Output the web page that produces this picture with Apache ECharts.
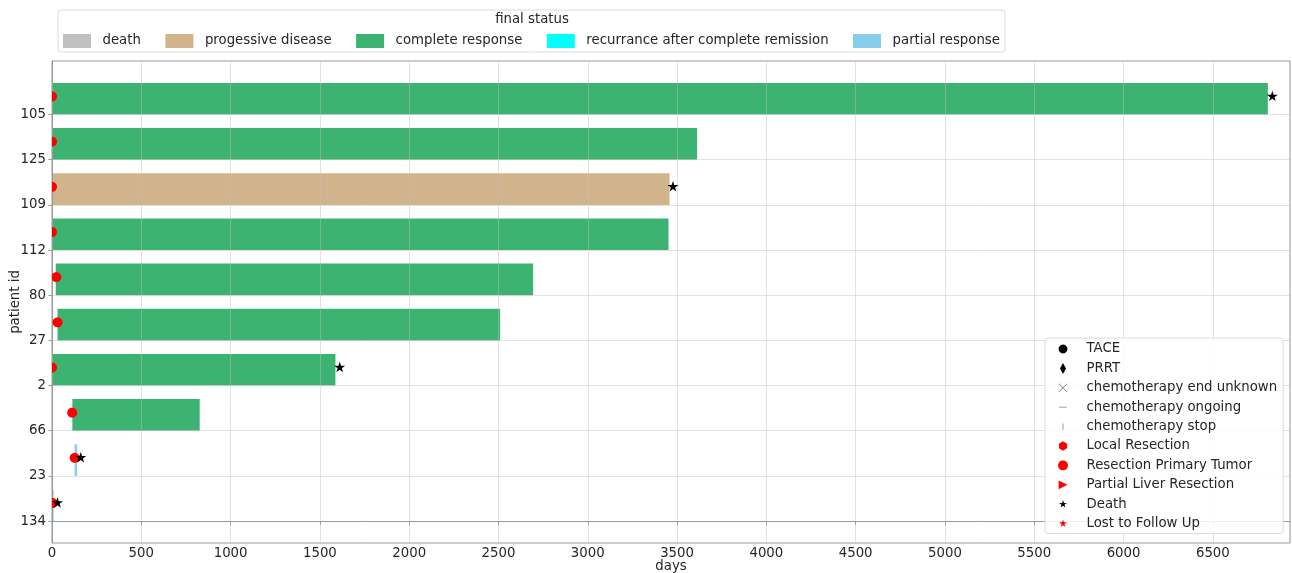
<!DOCTYPE html>
<html>
<head>
<meta charset="utf-8">
<script src="https://cdn.jsdelivr.net/npm/echarts@6/dist/echarts.min.js"></script>
<style>
  html, body { margin: 0; padding: 0; background: #ffffff; }
  #chart { width: 1292px; height: 573px; }
</style>
</head>
<body>
<div id="chart"></div>
<script>
// Patients, listed from the top row to the bottom row
const patients = ['105', '125', '109', '112', '80', '27', '2', '66', '23', '134'];
// Treatment period of each patient, in days
const startDays = [0, 0, 0, 0, 21, 31, 0, 114, 130, 0];
const endDays = [6808, 3612, 3458, 3452, 2694, 2509, 1587, 827, 137, 4];
const finalStatus = ['complete response', 'complete response', 'progessive disease', 'complete response',
  'complete response', 'complete response', 'complete response', 'complete response',
  'partial response', 'partial response'];
// Events (null = no event)
const resectionPrimaryDays = [0, 0, 0, 0, 24, 31, 0, 113, 127, 3];
const deathDays = [6833, null, 3477, null, null, null, 1611, null, 161, 31];

const statusNames = ['death', 'progessive disease', 'complete response',
  'recurrance after complete remission', 'partial response'];
const statusColors = ['#c0c0c0', '#d2b48c', '#3cb371', '#00ffff', '#87ceeb'];

const markerNames = ['TACE', 'PRRT', 'chemotherapy end unknown', 'chemotherapy ongoing', 'chemotherapy stop',
  'Local Resection', 'Resection Primary Tumor', 'Partial Liver Resection', 'Death', 'Lost to Follow Up'];

const xTickStep = 500;
const dayMax = 6932;
const BAR_H = 0.7;      // bar thickness in row units, bars sit on top of their tick
const MARK_OFF = 0.4;   // event markers sit inside the bar
const n = patients.length;
const rowOf = i => n - 1 - i;

// unit outlines (y pointing down)
const CIRCLE_PTS = Array.from({ length: 36 }, (_, k) => {
  const a = k * 2 * Math.PI / 36;
  return [Math.cos(a), Math.sin(a)];
});
const STAR_PTS = Array.from({ length: 10 }, (_, k) => {
  const r = k % 2 ? 0.382 : 1;
  const a = Math.PI / 2 + k * Math.PI / 5;
  return [r * Math.cos(a), -r * Math.sin(a)];
});
function toPath(pts, scale) {
  return pts.map((p, k) => (k ? 'L' : 'M') + (p[0] * scale).toFixed(3) + ',' + (p[1] * scale).toFixed(3)).join('') + 'Z';
}
function polyPts(sides, rot) {
  return Array.from({ length: sides }, (_, k) => {
    const a = rot + k * 2 * Math.PI / sides;
    return [Math.cos(a), -Math.sin(a)];
  });
}
const FRAME = 'M-1,-1L-1,-1ZM1,1L1,1Z';
const icons = {
  'TACE': 'path://' + FRAME + toPath(CIRCLE_PTS, 0.8),
  'PRRT': 'path://M0,-1L0.55,0L0,1L-0.55,0Z',
  'chemotherapy end unknown': 'path://' + FRAME + 'M-0.8,-0.7L-0.7,-0.8L0,-0.1L0.7,-0.8L0.8,-0.7L0.1,0L0.8,0.7L0.7,0.8L0,0.1L-0.7,0.8L-0.8,0.7L-0.1,0Z',
  'chemotherapy ongoing': 'path://' + FRAME + 'M-0.7,-0.07L0.7,-0.07L0.7,0.07L-0.7,0.07Z',
  'chemotherapy stop': 'path://' + FRAME + 'M-0.07,-0.55L0.07,-0.55L0.07,0.55L-0.07,0.55Z',
  'Local Resection': 'path://' + FRAME + toPath(polyPts(6, Math.PI / 2), 0.85),
  'Resection Primary Tumor': 'path://' + FRAME + toPath(CIRCLE_PTS, 0.9),
  'Partial Liver Resection': 'path://' + FRAME + 'M-0.8,-0.8L0.8,0L-0.8,0.8Z',
  'Death': 'path://' + FRAME + toPath(STAR_PTS, 0.75),
  'Lost to Follow Up': 'path://' + FRAME + toPath(STAR_PTS, 0.75)
};
const markerColors = {
  'TACE': '#000000', 'PRRT': '#000000',
  'chemotherapy end unknown': '#808080', 'chemotherapy ongoing': '#808080', 'chemotherapy stop': '#808080',
  'Local Resection': '#ff0000', 'Resection Primary Tumor': '#ff0000', 'Partial Liver Resection': '#ff0000',
  'Death': '#000000', 'Lost to Follow Up': '#ff0000'
};

const FONT = 'DejaVu Sans';
const FS = 13.3;
const TXT = '#262626';

function renderBar(params, api) {
  const row = api.value(0);
  const p0 = api.coord([api.value(1), row]);
  const p1 = api.coord([api.value(2), row + BAR_H]);
  let x0 = p0[0], x1 = p1[0];
  if (x1 - x0 < 2.5) { const c = (x0 + x1) / 2; x0 = c - 1.25; x1 = c + 1.25; }
  x0 = Math.max(x0, params.coordSys.x);
  return {
    type: 'rect',
    shape: { x: x0, y: p1[1], width: x1 - x0, height: p0[1] - p1[1] },
    style: { fill: api.visual('color') }
  };
}

// markers are cut at the left edge of the plot area
function markerRenderer(pts, size) {
  return function (params, api) {
    const c = api.coord([api.value(0), api.value(1)]);
    const minX = params.coordSys.x;
    const points = pts.map(p => [Math.max(minX, c[0] + p[0] * size / 2), c[1] + p[1] * size / 2]);
    return { type: 'polygon', shape: { points: points }, style: { fill: api.visual('color') } };
  };
}

const series = [];
statusNames.forEach((name, si) => {
  const data = [];
  patients.forEach((p, i) => {
    if (finalStatus[i] === name) data.push([rowOf(i), startDays[i], endDays[i]]);
  });
  series.push({
    name: name, type: 'custom', renderItem: renderBar, data: data,
    encode: { x: [1, 2], y: 0 }, itemStyle: { color: statusColors[si] }, z: 2
  });
});

markerNames.forEach(name => {
  const data = [];
  let pts = CIRCLE_PTS, size = 10;
  if (name === 'Resection Primary Tumor') {
    resectionPrimaryDays.forEach((d, i) => { if (d !== null) data.push([d, rowOf(i) + MARK_OFF]); });
  } else if (name === 'Death') {
    pts = STAR_PTS; size = 11.5;
    deathDays.forEach((d, i) => { if (d !== null) data.push([d, rowOf(i) + MARK_OFF]); });
  }
  series.push({
    name: name, type: 'custom', renderItem: markerRenderer(pts, size), data: data,
    encode: { x: 0, y: 1 }, z: 5,
    itemStyle: { color: markerColors[name] }
  });
});

const rowValues = patients.map((p, i) => i);

const chart = echarts.init(document.getElementById('chart'), null, { renderer: 'canvas' });
chart.setOption({
  animation: false,
  backgroundColor: '#ffffff',
  textStyle: { fontFamily: FONT },
  grid: { left: 52, right: 2, top: 61, bottom: 30, outerBoundsMode: 'none', containLabel: false,
    show: true, borderColor: '#9a9a9a', borderWidth: 1, backgroundColor: 'transparent' },
  xAxis: {
    type: 'value', min: 0, max: dayMax, interval: xTickStep, z: 3,
    name: 'days', nameLocation: 'middle', nameGap: 17.5, nameMoveOverlap: false,
    nameTextStyle: { fontFamily: FONT, fontSize: FS, color: TXT },
    axisLine: { show: true, lineStyle: { color: '#9a9a9a', width: 1 } },
    axisTick: { show: true, length: 3.5, lineStyle: { color: '#9a9a9a' } },
    axisLabel: { fontFamily: FONT, fontSize: FS, color: TXT, margin: 4, showMaxLabel: false,
      formatter: v => (v % xTickStep === 0 ? String(v) : '') },
    splitLine: { show: true, lineStyle: { color: 'rgba(190,190,190,0.45)', width: 1 } }
  },
  yAxis: {
    type: 'value', min: -0.485, max: n - 1 + BAR_H + 0.485, z: 3,
    name: 'patient id', nameLocation: 'middle', nameGap: 30, nameRotate: 90, nameMoveOverlap: false,
    nameTextStyle: { fontFamily: FONT, fontSize: FS, color: TXT },
    axisLine: { show: true, lineStyle: { color: '#9a9a9a', width: 1 } },
    axisTick: { show: true, length: 3.5, customValues: rowValues, lineStyle: { color: '#9a9a9a' } },
    axisLabel: { fontFamily: FONT, fontSize: FS, color: TXT, margin: 6, customValues: rowValues,
      formatter: v => patients[n - 1 - Math.round(v)] },
    splitLine: { show: true, lineStyle: { color: 'rgba(190,190,190,0.45)', width: 1 } }
  },
  legend: [
    {
      data: statusNames.map(s => ({ name: s, icon: 'rect' })),
      orient: 'horizontal', left: 58, top: 10, z: 10,
      itemWidth: 28, itemHeight: 14, itemGap: 24.5, selectedMode: false,
      padding: [23, 5, 3, 5],
      backgroundColor: 'rgba(255,255,255,0.85)', borderColor: '#dcdcdc', borderWidth: 1, borderRadius: 3,
      textStyle: { fontFamily: FONT, fontSize: FS, color: TXT, lineHeight: 16, padding: [0, 0, 0, 6.5] }
    },
    {
      data: markerNames.map(m => ({ name: m, icon: icons[m], itemStyle: { color: markerColors[m] } })),
      orient: 'vertical', left: 1045, top: 338, z: 10,
      itemWidth: 11, itemHeight: 11, itemGap: 3.4, selectedMode: false,
      padding: [3, 6, 2, 12.5],
      backgroundColor: 'rgba(255,255,255,0.85)', borderColor: '#dcdcdc', borderWidth: 1, borderRadius: 3,
      textStyle: { fontFamily: FONT, fontSize: FS, color: TXT, lineHeight: 16, padding: [0, 0, 0, 13] }
    }
  ],
  graphic: [{
    type: 'text', x: 532, y: 20, z: 20,
    style: { text: 'final status', fontFamily: FONT, fontSize: FS, fill: TXT, textAlign: 'center', textVerticalAlign: 'middle' }
  }],
  series: series
});
</script>
</body>
</html>
